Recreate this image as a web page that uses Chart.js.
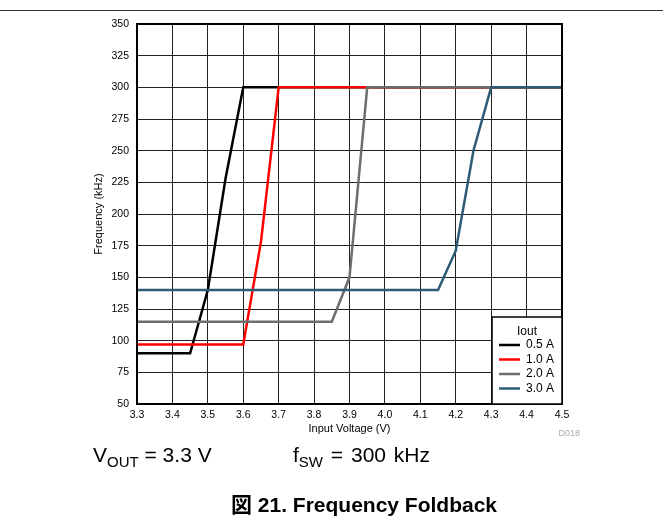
<!DOCTYPE html>
<html>
<head>
<meta charset="utf-8">
<script src="https://cdn.jsdelivr.net/npm/chart.js@4.4.1/dist/chart.umd.min.js"></script>
<style>
  html, body { margin: 0; padding: 0; background: #fff; }
  body { width: 663px; height: 527px; position: relative; overflow: hidden;
         font-family: "Liberation Sans", Arial, sans-serif; color: #000; }
  #wrap { position: absolute; left: 0; top: 0; width: 663px; height: 527px; }
  .rule { position: absolute; left: 0; top: 10px; width: 663px; height: 1px; background: #333; }
  .cond { position: absolute; top: 443px; font-size: 21px; white-space: nowrap; }
  .cond sub { font-size: 15px; vertical-align: -5px; line-height: 0; }
  .caption { position: absolute; top: 488px; left: 0; width: 728px; text-align: center;
             font-size: 21px; font-weight: bold; white-space: nowrap; }
  .caption .cjk { font-family: "Noto Sans CJK JP", sans-serif; }
</style>
</head>
<body>
<div class="rule"></div>
<div id="wrap"><canvas id="chart" width="663" height="527"></canvas></div>
<div class="cond" style="left:93px">V<sub>OUT</sub> = 3.3 V</div>
<div class="cond" style="left:293px; word-spacing:2px">f<sub>SW</sub> = 300 kHz</div>
<div class="caption"><span class="cjk">図</span> 21. Frequency Foldback</div>

<script>
// ══════════════════════════════
//  DATA
// ══════════════════════════════
const xTicks = [3.3, 3.4, 3.5, 3.6, 3.7, 3.8, 3.9, 4.0, 4.1, 4.2, 4.3, 4.4, 4.5];
const yTicks = [50, 75, 100, 125, 150, 175, 200, 225, 250, 275, 300, 325, 350];

const seriesNames = ['0.5 A', '1.0 A', '2.0 A', '3.0 A'];
const seriesColors = ['#000000', '#ff0000', '#6e6e6e', '#2d5b75'];

const vin05 = [3.3, 3.45, 3.5, 3.55, 3.6, 4.5];
const f05   = [90, 90, 140, 228, 300, 300];
const vin10 = [3.3, 3.6, 3.65, 3.7, 4.5];
const f10   = [97, 97, 178, 300, 300];
const vin20 = [3.3, 3.85, 3.9, 3.95, 4.5];
const f20   = [115, 115, 150, 300, 300];
const vin30 = [3.3, 4.15, 4.2, 4.25, 4.3, 4.5];
const f30   = [140, 140, 171, 250, 300, 300];

const xs = [vin05, vin10, vin20, vin30];
const ys = [f05, f10, f20, f30];

const FONT = '"Liberation Sans", Arial, sans-serif';

// ══════════════════════════════
//  PLUGIN: border, titles, legend
// ══════════════════════════════
const decor = {
  id: 'decor',
  afterDraw(chart) {
    const ctx = chart.ctx;
    const a = chart.chartArea;
    ctx.save();

    // plot frame
    ctx.strokeStyle = '#000';
    ctx.lineWidth = 2;
    ctx.strokeRect(a.left, a.top, a.right - a.left, a.bottom - a.top);

    // axis titles
    ctx.fillStyle = '#000';
    ctx.font = '11px ' + FONT;
    ctx.textAlign = 'center';
    ctx.textBaseline = 'middle';
    ctx.fillText('Input Voltage (V)', (a.left + a.right) / 2, 429);
    ctx.save();
    ctx.translate(99, (a.top + a.bottom) / 2);
    ctx.rotate(-Math.PI / 2);
    ctx.fillText('Frequency (kHz)', 0, 0);
    ctx.restore();

    // figure id
    ctx.fillStyle = '#aaa';
    ctx.font = '9px ' + FONT;
    ctx.textAlign = 'right';
    ctx.fillText('D018', 580, 434);

    // legend box, bottom right corner of the plot
    const w = 70, h = 87;
    const bx = a.right - w, by = a.bottom - h;
    ctx.fillStyle = '#fff';
    ctx.fillRect(bx, by, w, h);
    ctx.strokeStyle = '#000';
    ctx.lineWidth = 1.5;
    ctx.strokeRect(bx, by, w, h);

    ctx.fillStyle = '#000';
    ctx.font = '12px ' + FONT;
    ctx.textAlign = 'center';
    ctx.fillText('Iout', bx + 35, by + 15);
    ctx.textAlign = 'left';
    seriesNames.forEach((name, i) => {
      const yy = by + 28 + i * 14.5;
      ctx.strokeStyle = seriesColors[i];
      ctx.lineWidth = 2.5;
      ctx.beginPath();
      ctx.moveTo(bx + 7, yy);
      ctx.lineTo(bx + 28, yy);
      ctx.stroke();
      ctx.fillStyle = '#000';
      ctx.fillText(name, bx + 34, yy);
    });
    ctx.restore();
  }
};

// ══════════════════════════════
//  CHART
// ══════════════════════════════
new Chart(document.getElementById('chart'), {
  type: 'line',
  plugins: [decor],
  data: {
    datasets: seriesNames.map((name, i) => ({
      label: name,
      data: xs[i].map((x, j) => ({ x: x, y: ys[i][j] })),
      borderColor: seriesColors[i],
      borderWidth: 2.5,
      pointRadius: 0,
      tension: 0,
      fill: false,
      order: seriesNames.length - i, // later series on top
    })),
  },
  options: {
    responsive: false,
    animation: false,
    devicePixelRatio: 1,
    layout: { padding: { top: 24, right: 101, bottom: 103, left: 0 } },
    plugins: {
      legend: { display: false },
      tooltip: { enabled: false },
    },
    scales: {
      x: {
        type: 'linear',
        min: 3.3,
        max: 4.5,
        afterBuildTicks: (axis) => { axis.ticks = xTicks.map(v => ({ value: v })); },
        afterFit: (scale) => { scale.height = 20; },
        ticks: {
          color: '#000',
          padding: 5,
          maxRotation: 0,
          autoSkip: false,
          font: { family: FONT, size: 10.5 },
          callback: (v) => Number(v).toFixed(1),
        },
        grid: { color: '#222', lineWidth: 1, drawTicks: false },
        border: { display: false },
      },
      y: {
        min: 50,
        max: 350,
        afterBuildTicks: (axis) => { axis.ticks = yTicks.map(v => ({ value: v })); },
        afterFit: (scale) => { scale.width = 137; },
        ticks: {
          color: '#000',
          padding: 8,
          autoSkip: false,
          font: { family: FONT, size: 10.5 },
        },
        grid: { color: '#222', lineWidth: 1, drawTicks: false },
        border: { display: false },
      },
    },
  },
});
</script>
</body>
</html>
